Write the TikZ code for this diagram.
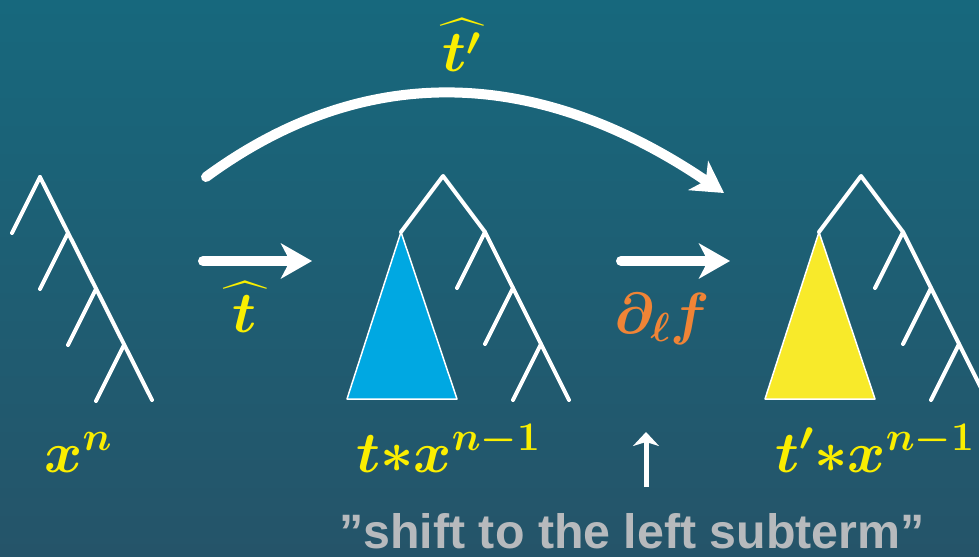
\documentclass[tikz,border=0pt]{standalone}
\usepackage{fix-cm}
\usepackage{amsmath}
\usepackage[no-math]{fontspec}
\newfontfamily\notefont{Liberation Sans}
\usetikzlibrary{arrows.meta}

\definecolor{bgtop}{HTML}{17687D}
\definecolor{bgbot}{HTML}{255469}
\definecolor{subblue}{HTML}{00A8E2}
\definecolor{subyellow}{HTML}{F8EA2A}
\definecolor{labyellow}{HTML}{FAEE00}
\definecolor{laborange}{HTML}{F08436}
\definecolor{notegray}{HTML}{B7BABD}

\begin{document}
\begin{tikzpicture}[x=0.02cm, y=-0.02cm,
    branch/.style={white, line width=0.08cm, line cap=round, line join=round},
    subtree/.style={draw=white, line width=0.03cm, line join=round},
    bigarrow/.style={white, line width=0.2cm, line cap=round, -{Stealth[length=0.62cm, width=0.7cm, inset=0.18cm]}},
    term/.style={inner sep=0pt, anchor=base west, text=labyellow, font=\fontsize{33}{40}\selectfont},
    oplabel/.style={inner sep=0pt, anchor=base, font=\fontsize{33}{40}\selectfont}]
    % Background
    \shade[top color=bgtop, bottom color=bgbot] (0,0) rectangle (979,557);
    \useasboundingbox (0,0) rectangle (979,557);
    \clip (0,0) rectangle (979,557);

    % Comb tree x^n
    \draw[branch] (40,177) -- (152,400);
    \foreach \i in {0,...,3}
        \draw[branch] (40+28*\i,177+56*\i) -- ++(-28,56);

    % Trees with a left subterm
    \foreach \dx/\col in {0/subblue, 418/subyellow} {
        \begin{scope}[shift={(\dx,0)}]
            \filldraw[subtree, fill=\col] (401,232) -- (347,399) -- (457,399) -- cycle;
            \draw[branch] (401,232) -- (443,176) -- (485,232) -- (569,400);
            \foreach \i in {0,...,2}
                \draw[branch] (485+28*\i,232+56*\i) -- ++(-28,56);
        \end{scope}
    }

    % Arrow ends
    \coordinate (s1) at (203,261);
    \coordinate (e1) at (312,261);
    \coordinate (s2) at (621,261);
    \coordinate (e2) at (730,261);
    \coordinate (s3) at (206,177);
    \coordinate (e3) at (724,193);
    \coordinate (ub) at (646,487);
    \coordinate (ut) at (646,432);

    % Arrows
    \draw[bigarrow] (s1) -- (e1);
    \draw[bigarrow] (s2) -- (e2);
    \draw[bigarrow] (s3) .. controls (364,61) and (537,66) .. (e3);
    \draw[white, line width=0.1cm, -{Stealth[length=0.28cm, width=0.52cm, inset=0.08cm]}] (ub) -- (ut);

    % Labels
    \node[oplabel, text=labyellow] (that) at (245,332) {$\boldsymbol{\widehat{\mkern4mu t\mkern4mu}}$};
    \node[oplabel, text=labyellow] (thatp) at (462,72) {$\boldsymbol{\widehat{\mkern1mu t'\mkern1mu}}$};
    \node[oplabel, text=laborange] (dlf) at (662,333) {$\boldsymbol{\partial_{\ell} f}$};
    \node[term] (xn) at (44,472) {$\boldsymbol{x^{n}}$};
    \node[term] (txn) at (356,472) {$\boldsymbol{t{*}x^{n-1}}$};
    \node[term] (tpxn) at (775,472) {$\boldsymbol{t'{*}x^{n-1}}$};
    \node[inner sep=0pt, anchor=base, text=notegray, font=\notefont\bfseries\fontsize{27.5}{32}\selectfont] (note) at (632,548) {”shift to the left subterm”};
\end{tikzpicture}
\end{document}
